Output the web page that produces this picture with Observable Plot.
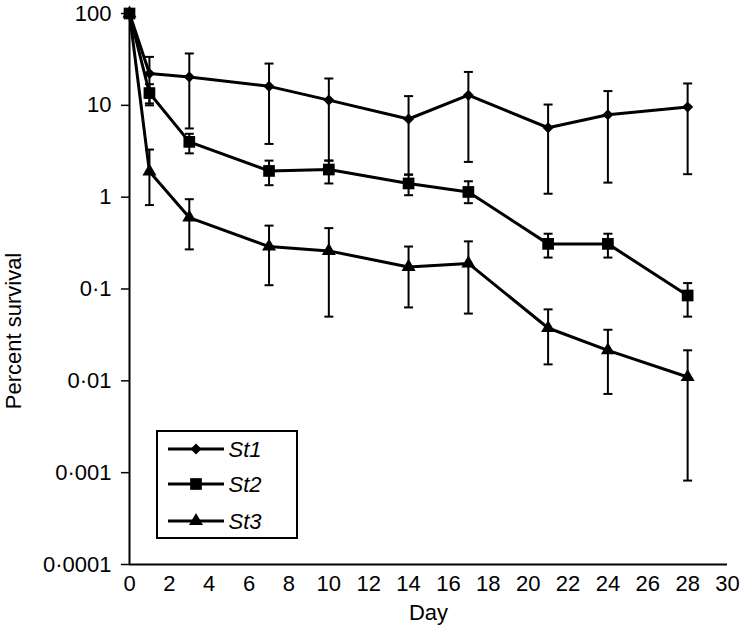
<!DOCTYPE html>
<html>
<head>
<meta charset="utf-8">
<script src="https://cdn.jsdelivr.net/npm/d3@7"></script>
<script src="https://cdn.jsdelivr.net/npm/@observablehq/plot@0.6"></script>
<style>
  html, body { margin: 0; padding: 0; background: #fff; }
  #chart { width: 740px; height: 634px; }
</style>
</head>
<body>
<div id="chart"></div>
<script>
const days = [0, 1, 3, 7, 10, 14, 17, 21, 24, 28];
const seriesNames = ["St1", "St2", "St3"];
const st1 = [100, 22.2, 20.4, 16.1, 11.4, 7.1, 12.9, 5.7, 7.9, 9.6];
const st1Hi = [null, 33.7, 36.7, 28.5, 19.6, 12.6, 23.1, 10.2, 14.3, 17.3];
const st1Lo = [null, 10.5, 5.6, 3.8, 2.5, 1.76, 2.42, 1.09, 1.44, 1.78];
const st2 = [100, 13.6, 4.0, 1.93, 2.0, 1.41, 1.14, 0.31, 0.31, 0.085];
const st2Hi = [null, 17, 4.9, 2.5, 2.5, 1.76, 1.49, 0.40, 0.40, 0.116];
const st2Lo = [null, 10.0, 3.0, 1.35, 1.41, 1.05, 0.86, 0.22, 0.22, 0.050];
const st3 = [100, 1.9, 0.60, 0.29, 0.26, 0.174, 0.19, 0.0376, 0.0215, 0.011];
const st3Hi = [null, 3.3, 0.95, 0.49, 0.46, 0.29, 0.33, 0.060, 0.036, 0.0215];
const st3Lo = [null, 0.82, 0.27, 0.11, 0.05, 0.063, 0.054, 0.0151, 0.0072, 0.00082];
const yTicks = [100, 10, 1, 0.1, 0.01, 0.001, 0.0001];
const xTicks = [0, 2, 4, 6, 8, 10, 12, 14, 16, 18, 20, 22, 24, 26, 28, 30];
const xLabel = "Day";
const yLabel = "Percent survival";

const symbols = {St1: "diamond2", St2: "square", St3: "triangle"};
const radii = {St1: 5.0, St2: 6.6, St3: 5.2};

const vals = [st1, st2, st3], his = [st1Hi, st2Hi, st3Hi], los = [st1Lo, st2Lo, st3Lo];
const rows = [];
seriesNames.forEach((s, i) => {
  days.forEach((d, j) => rows.push({series: s, day: d, v: vals[i][j], hi: his[i][j], lo: los[i][j]}));
});
const errRows = rows.filter(r => r.hi != null);

const capSymbol = {draw(ctx) { ctx.moveTo(-4.5, 0); ctx.lineTo(4.5, 0); }};
const fmt = d => String(d).replace(".", "\u00B7");

const font = "Liberation Sans, Arial, sans-serif";

const plot = Plot.plot({
  width: 740,
  height: 634,
  marginLeft: 129,
  marginRight: 13,
  marginTop: 13,
  marginBottom: 70,
  style: {fontFamily: font, fontSize: "22px", color: "#000", background: "#fff"},
  x: {domain: [0, 30]},
  y: {type: "log", domain: [0.0001, 100]},
  marks: [
    Plot.axisY({ticks: yTicks, tickFormat: fmt, tickSize: 8, tickPadding: 10, label: null, fontSize: 22, stroke: "#000", strokeWidth: 1.5}),
    Plot.axisX({ticks: xTicks, tickFormat: d => String(d), tickSize: 0, tickPadding: 11, label: null, fontSize: 22}),
    Plot.text([xLabel], {frameAnchor: "bottom", lineAnchor: "middle", dy: 48, fontSize: 22, fill: "#000"}),
    Plot.text([yLabel], {frameAnchor: "left", rotate: -90, textAnchor: "middle", lineAnchor: "middle", dx: -116, dy: 42, fontSize: 22, fill: "#000"}),
    Plot.ruleX([0], {stroke: "#000", strokeWidth: 2}),
    Plot.ruleY([0.0001], {stroke: "#000", strokeWidth: 2}),
    Plot.ruleX(errRows, {x: "day", y1: "lo", y2: "hi", stroke: "#000", strokeWidth: 2}),
    Plot.dot(errRows, {x: "day", y: "hi", symbol: capSymbol, stroke: "#000", strokeWidth: 2}),
    Plot.dot(errRows, {x: "day", y: "lo", symbol: capSymbol, stroke: "#000", strokeWidth: 2}),
    Plot.line(rows, {x: "day", y: "v", z: "series", stroke: "#000", strokeWidth: 3}),
    ...seriesNames.map(s => Plot.dot(rows.filter(r => r.series === s), {x: "day", y: "v", symbol: symbols[s], r: radii[s], fill: "#000", stroke: "none"}))
  ]
});

document.getElementById("chart").appendChild(plot);

// Legend box drawn inside the plot SVG
const svg = d3.select(plot);
const lg = svg.append("g").attr("class", "legend");
lg.append("rect").attr("x", 157).attr("y", 431).attr("width", 140).attr("height", 107)
  .attr("fill", "#fff").attr("stroke", "#000").attr("stroke-width", 2);
const symMap = {St1: d3.symbolDiamond2, St2: d3.symbolSquare, St3: d3.symbolTriangle};
const rowY = [449, 484, 521];
seriesNames.forEach((s, i) => {
  const y = rowY[i];
  lg.append("line").attr("x1", 168).attr("x2", 224).attr("y1", y).attr("y2", y)
    .attr("stroke", "#000").attr("stroke-width", 3);
  const r = radii[s];
  lg.append("path").attr("transform", `translate(196,${y})`)
    .attr("d", d3.symbol(symMap[s], Math.PI * r * r)()).attr("fill", "#000");
  lg.append("text").attr("x", 245).attr("y", y).attr("dy", "0.35em")
    .attr("font-style", "italic").attr("font-size", 22).attr("font-family", font).attr("fill", "#000").text(s);
});
</script>
</body>
</html>
